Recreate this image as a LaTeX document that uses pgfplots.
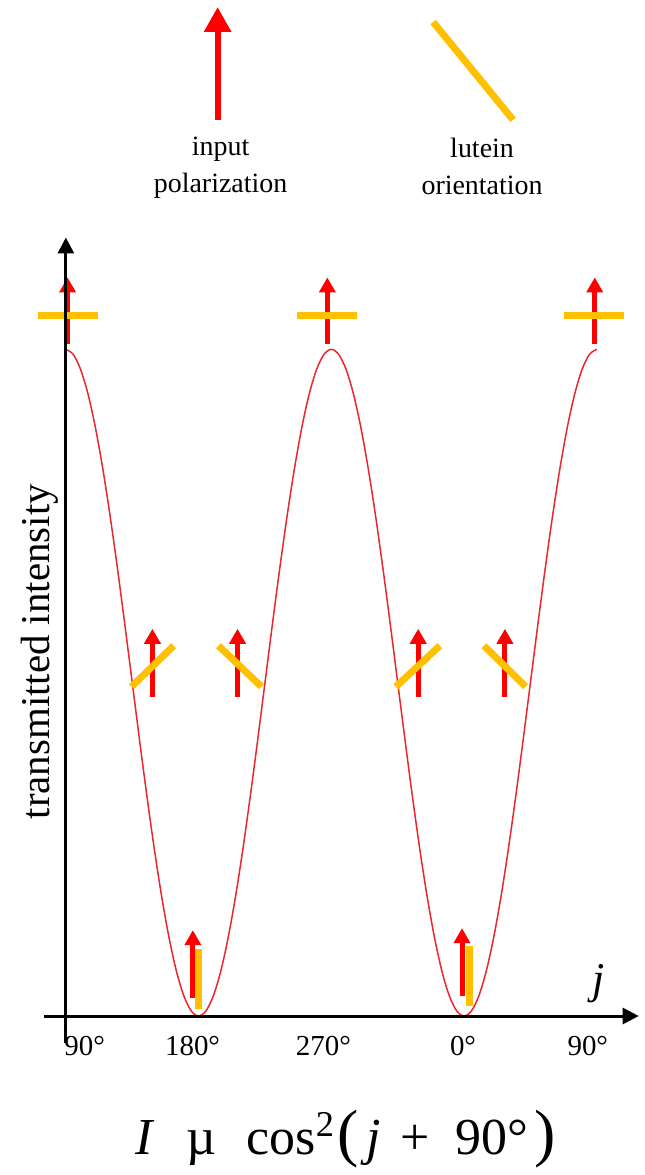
\documentclass[border=0pt]{standalone}
\usepackage{pgfplots}
\pgfplotsset{compat=1.18}
\usepackage{pgfplotstable}
\usetikzlibrary{arrows.meta}
\usepackage{fontspec}
\setmainfont{Liberation Serif}

\definecolor{polred}{RGB}{255,0,0}
\definecolor{lutein}{RGB}{255,192,0}
\definecolor{curvered}{RGB}{234,38,46}

% transmitted intensity, cos^2 of the rotation angle (5 degree steps)
\pgfplotstableread{
t I
0 1.0000
5 0.9924
10 0.9698
15 0.9330
20 0.8830
25 0.8214
30 0.7500
35 0.6710
40 0.5868
45 0.5000
50 0.4132
55 0.3290
60 0.2500
65 0.1786
70 0.1170
75 0.0670
80 0.0302
85 0.0076
90 0.0000
95 0.0076
100 0.0302
105 0.0670
110 0.1170
115 0.1786
120 0.2500
125 0.3290
130 0.4132
135 0.5000
140 0.5868
145 0.6710
150 0.7500
155 0.8214
160 0.8830
165 0.9330
170 0.9698
175 0.9924
180 1.0000
185 0.9924
190 0.9698
195 0.9330
200 0.8830
205 0.8214
210 0.7500
215 0.6710
220 0.5868
225 0.5000
230 0.4132
235 0.3290
240 0.2500
245 0.1786
250 0.1170
255 0.0670
260 0.0302
265 0.0076
270 0.0000
275 0.0076
280 0.0302
285 0.0670
290 0.1170
295 0.1786
300 0.2500
305 0.3290
310 0.4132
315 0.5000
320 0.5868
325 0.6710
330 0.7500
335 0.8214
340 0.8830
345 0.9330
350 0.9698
355 0.9924
360 1.0000
}\curve

% input polarization arrows (start point and vector)
\pgfplotstableread{
x y u v
1.15 1.0075 0 0.1003
177.3 1.0075 0 0.1003
358.6 1.0075 0 0.1003
58.7 0.4790 0 0.1018
116.4 0.4790 0 0.1018
238.9 0.4790 0 0.1018
297.7 0.4790 0 0.1018
86.1 0.0269 0 0.1018
268.6 0.0299 0 0.1018
}\polarrows

% lutein orientation bars (start point and vector)
\pgfplotstableread{
x y u v
-18.95 1.0509 40.6 0
157.0 1.0509 40.6 0
337.7 1.0509 40.6 0
44.5 0.4940 28.6 0.0614
103.5 0.5554 29.1 -0.0614
223.8 0.4940 29.7 0.0614
283.5 0.5554 28.3 -0.0614
90.2 0.0109 0 0.0894
273.4 0.0150 0 0.0894
}\luteinbars

\begin{document}
\begin{tikzpicture}
\begin{axis}[
  width=323pt, height=587.5pt, scale only axis,
  xmin=-44.66, xmax=392.5, ymin=-0.2350, ymax=1.5240,
  hide axis, clip=false,
]
\path (rel axis cs:0,0) rectangle (rel axis cs:1,1);

% intensity curve
\addplot[curvered, line width=0.75pt, smooth, mark=none] table[x=t, y=I] {\curve};

% polarization arrows
\addplot[polred, line width=2.5pt, mark=none,
  quiver={u=\thisrow{u}, v=\thisrow{v}},
  -{Triangle[width=8pt,length=7.5pt]}] table[x=x, y=y] {\polarrows};

% lutein bars
\addplot[lutein, line width=3.5pt, mark=none, line cap=butt,
  quiver={u=\thisrow{u}, v=\thisrow{v}}] table[x=x, y=y] {\luteinbars};

% axes
\draw[black, line width=1.5pt, -{Triangle[width=8pt,length=8pt]}]
  (axis cs:-14.9,0) -- (axis cs:388.4,0);
\draw[black, line width=1.5pt, -{Triangle[width=8pt,length=8pt]}]
  (axis cs:0,-0.0404) -- (axis cs:0,1.1677);

% tick labels
\begin{scope}[font=\fontsize{14.5}{16}\selectfont]
\node at (axis cs:12.8,-0.0449) {90°};
\node at (axis cs:85.9,-0.0449) {180°};
\node at (axis cs:174.6,-0.0449) {270°};
\node at (axis cs:269.3,-0.0449) {0°};
\node at (axis cs:353.9,-0.0449) {90°};
\end{scope}

% axis titles
\node[rotate=90, font=\fontsize{20.5}{24}\selectfont] at (axis cs:-17.6,0.5464) {transmitted intensity};
\node[font=\fontsize{22}{24}\selectfont\itshape] at (axis cs:361,0.0479) {j};

% key
\draw[polred, line width=3pt, -{Triangle[width=13pt,length=12.5pt]}]
  (axis cs:102.9,1.3443) -- (axis cs:102.9,1.5135);
\draw[lutein, line width=3.5pt, line cap=butt]
  (axis cs:249.0,1.4910) -- (axis cs:303.2,1.3443);
\node[align=center, font=\fontsize{14}{18.5}\selectfont] at (axis cs:104.9,1.2720) {input\\polarization};
\node[align=center, font=\fontsize{14}{18.5}\selectfont] at (axis cs:282.2,1.2747) {lutein\\orientation};

% relation
\node[anchor=base, font=\fontsize{26}{30}\selectfont] at (axis cs:189.8,-0.2081)
  {\textit{I}\hspace{16pt}µ\hspace{15pt}cos\textsuperscript{2}\hspace{1pt}{\fontsize{32}{32}\selectfont(}\hspace{4pt}\textit{j}\hspace{10pt}+\hspace{13pt}90°\hspace{3pt}{\fontsize{32}{32}\selectfont)}};
\end{axis}
\end{tikzpicture}
\end{document}
